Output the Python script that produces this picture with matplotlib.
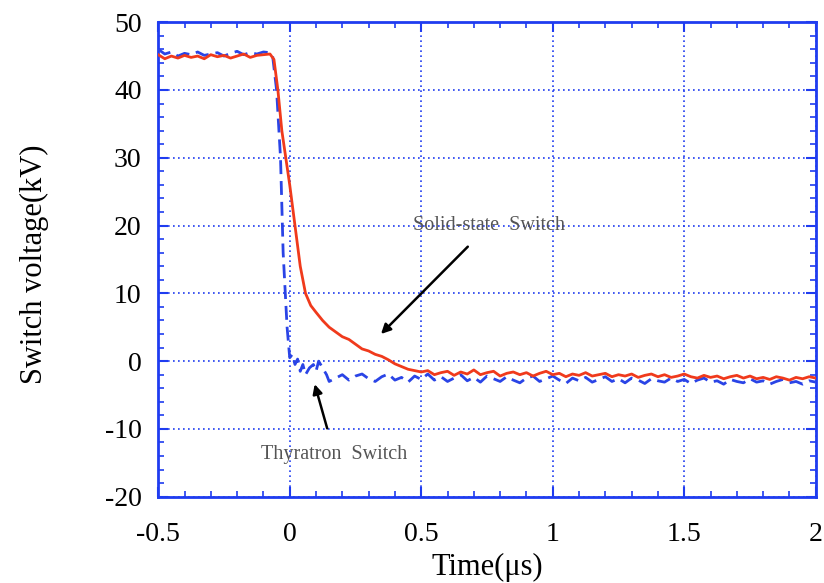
import matplotlib
matplotlib.use("Agg")
import matplotlib.pyplot as plt
from matplotlib.ticker import MultipleLocator

plt.rcParams["font.family"] = ["Liberation Serif", "DejaVu Serif"]
plt.rcParams["axes.unicode_minus"] = False

# Solid-state switch (red, solid)
solid_t = [
    -0.5, -0.475, -0.45, -0.425, -0.4, -0.375, -0.35, -0.325, -0.3, -0.275,
    -0.25, -0.225, -0.2, -0.175, -0.15, -0.125, -0.1, -0.075,
    -0.06, -0.045, -0.03, -0.015, 0.0, 0.02, 0.04, 0.06, 0.08, 0.1,
    0.125, 0.15, 0.175, 0.2, 0.225, 0.25, 0.275, 0.3, 0.325, 0.35,
    0.375, 0.4, 0.425, 0.45, 0.475, 0.5,
    0.525, 0.55, 0.575, 0.6, 0.625, 0.65, 0.675, 0.7, 0.725, 0.75,
    0.775, 0.8, 0.825, 0.85, 0.875, 0.9, 0.925, 0.95, 0.975, 1.0,
    1.025, 1.05, 1.075, 1.1, 1.125, 1.15, 1.175, 1.2, 1.225, 1.25,
    1.275, 1.3, 1.325, 1.35, 1.375, 1.4, 1.425, 1.45, 1.475, 1.5,
    1.525, 1.55, 1.575, 1.6, 1.625, 1.65, 1.675, 1.7, 1.725, 1.75,
    1.775, 1.8, 1.825, 1.85, 1.875, 1.9, 1.925, 1.95, 1.975, 2.0,
]
solid_v = [
    45.2, 44.6, 45.0, 44.7, 45.1, 44.8, 45.0, 44.6, 45.2, 44.9,
    45.1, 44.7, 45.0, 45.3, 44.8, 45.1, 45.2, 45.3,
    44.5, 40.0, 34.0, 30.0, 26.0, 20.0, 14.0, 10.0, 8.2, 7.2,
    6.0, 5.0, 4.3, 3.6, 3.2, 2.5, 1.8, 1.5, 1.0, 0.7,
    0.2, -0.4, -0.8, -1.2, -1.4, -1.6,
    -1.4, -2.0, -1.7, -1.5, -2.1, -1.6, -1.9, -1.3, -2.0, -1.7,
    -1.5, -2.2, -1.8, -1.6, -2.0, -1.7, -2.2, -1.8, -1.5, -2.0,
    -1.8, -2.3, -1.9, -2.1, -1.7, -2.2, -2.0, -1.8, -2.3, -2.0,
    -2.2, -1.9, -2.4, -2.1, -1.9, -2.3, -2.0, -2.4, -2.2, -1.9,
    -2.3, -2.5, -2.1, -2.4, -2.2, -2.6, -2.3, -2.1, -2.5, -2.2,
    -2.6, -2.4, -2.7, -2.3, -2.5, -2.8, -2.4, -2.6, -2.3, -2.5,
]

# Thyratron switch (blue, dashed)
thyr_t = [
    -0.5, -0.475, -0.45, -0.425, -0.4, -0.375, -0.35, -0.325, -0.3, -0.275,
    -0.25, -0.225, -0.2, -0.175, -0.15, -0.125, -0.1, -0.075,
    -0.065, -0.05, -0.035, -0.025, -0.01, 0.0, 0.01, 0.02, 0.03, 0.04,
    0.05, 0.06, 0.075, 0.09, 0.1, 0.11, 0.125, 0.14, 0.15, 0.175,
    0.2, 0.225, 0.25, 0.275, 0.3, 0.325, 0.35, 0.375, 0.4, 0.425,
    0.45, 0.475, 0.5, 0.525, 0.55, 0.575, 0.6, 0.625, 0.65, 0.675,
    0.7, 0.725, 0.75, 0.775, 0.8, 0.825, 0.85, 0.875, 0.9, 0.925,
    0.95, 0.975, 1.0, 1.025, 1.05, 1.075, 1.1, 1.125, 1.15, 1.175,
    1.2, 1.225, 1.25, 1.275, 1.3, 1.325, 1.35, 1.375, 1.4, 1.425,
    1.45, 1.475, 1.5, 1.525, 1.55, 1.575, 1.6, 1.625, 1.65, 1.675,
    1.7, 1.725, 1.75, 1.775, 1.8, 1.825, 1.85, 1.875, 1.9, 1.925,
    1.95, 1.975, 2.0,
]
thyr_v = [
    46.0, 45.3, 45.6, 45.0, 45.4, 45.2, 45.6, 45.1, 45.3, 45.5,
    45.0, 45.4, 45.7, 45.2, 45.5, 45.3, 45.6, 45.5,
    45.0, 40.0, 30.0, 16.0, 5.0, 0.5, 1.0, -0.5, 0.3, -1.5,
    -0.5, -2.0, -1.0, -0.5, -1.5, 0.0, -1.0, -2.0, -3.0, -2.5,
    -2.0, -2.8, -2.2, -1.9, -2.6, -3.0, -2.3, -1.9, -2.8, -2.4,
    -3.1, -2.2, -2.7, -1.9, -2.8, -2.3, -3.0, -2.5, -2.0, -2.9,
    -2.4, -3.1, -2.2, -2.6, -3.0, -2.3, -2.8, -3.2, -2.5, -2.2,
    -3.0, -2.6, -2.2, -2.8, -3.3, -2.5, -2.9, -2.4, -3.1, -2.7,
    -2.3, -3.0, -2.6, -3.2, -2.5, -2.8, -3.3, -2.6, -2.9, -3.1,
    -2.5, -3.0, -2.7, -3.3, -2.8, -2.5, -3.1, -2.9, -3.4, -2.7,
    -3.0, -3.2, -2.6, -3.1, -2.9, -3.4, -3.0, -2.7, -3.2, -3.0,
    -3.4, -2.9, -3.1,
]

FRAME = "#1f3cf0"

fig = plt.figure(figsize=(8.24, 5.83), dpi=100)
ax = fig.add_axes([0.192, 0.148, 0.798, 0.814])

ax.plot(thyr_t, thyr_v, color="#2a44e6", linewidth=2.0,
        linestyle=(0, (5, 2.5)), zorder=3)
ax.plot(solid_t, solid_v, color="#f03a1c", linewidth=2.0, zorder=4)

ax.set_xlim(-0.5, 2)
ax.set_ylim(-20, 50)
ax.xaxis.set_minor_locator(MultipleLocator(0.1))
ax.yaxis.set_major_locator(MultipleLocator(10))
ax.yaxis.set_minor_locator(MultipleLocator(2))
ax.set_xticks([-0.5, 0, 0.5, 1, 1.5, 2])
ax.set_xticklabels(["-0.5", "0", "0.5", "1", "1.5", "2"])

ax.grid(True, which="major", color=FRAME, linestyle=(0, (1, 2)),
        linewidth=1.2, zorder=1)
for spine in ax.spines.values():
    spine.set_color(FRAME)
    spine.set_linewidth(2)
ax.tick_params(which="both", direction="in", top=True, right=True,
               color=FRAME, labelsize=20)
ax.tick_params(axis="x", pad=18)
ax.tick_params(axis="y", pad=12)
ax.tick_params(which="major", length=7, width=1.5)
ax.tick_params(which="minor", length=4, width=1.2)

ax.set_xlabel("Time(\u03bcs)", fontsize=22)
ax.set_ylabel("Switch voltage(kV)", fontsize=22)
ax.xaxis.set_label_coords(0.5, -0.118)
ax.yaxis.set_label_coords(-0.166, 0.49)

ax.annotate("Solid-state  Switch", xy=(0.347, 4.0), xytext=(0.757, 20.0),
            fontsize=14.5, color="#555555", ha="center", va="center",
            arrowprops=dict(arrowstyle="-|>", color="black", lw=1.8,
                            mutation_scale=14, shrinkA=9, shrinkB=0))
ax.annotate("Thyratron  Switch", xy=(0.095, -3.4), xytext=(0.17, -13.7),
            fontsize=14.5, color="#555555", ha="center", va="center",
            arrowprops=dict(arrowstyle="-|>", color="black", lw=1.8,
                            mutation_scale=14, shrinkA=10, shrinkB=0))

fig.savefig("out.png", dpi=100)
